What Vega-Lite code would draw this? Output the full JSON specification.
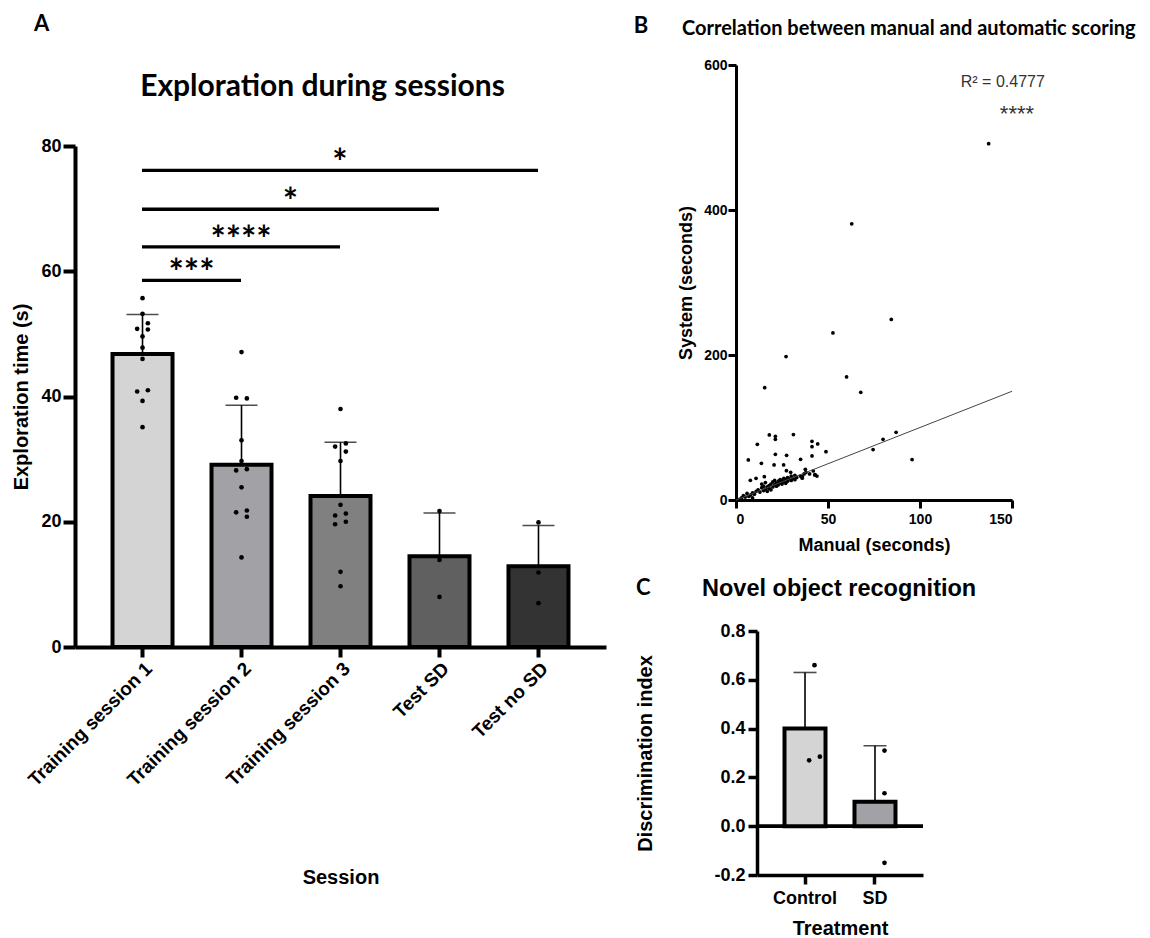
{
  "$schema": "https://vega.github.io/schema/vega-lite/v6.json",
  "background": "white",
  "padding": {"left": 11, "top": 12, "right": 0, "bottom": 0},
  "config": {
    "view": {"stroke": null},
    "axis": {"grid": false, "domainColor": "black", "tickColor": "black", "labelColor": "black", "titleColor": "black", "labelFont": "Liberation Sans", "titleFont": "Liberation Sans", "labelFontWeight": "bold", "titleFontWeight": "bold"},
    "title": {"color": "black"},
    "text": {"color": "black"}
  },
  "datasets": {
    "sessions": [
      {"session": "Training session 1", "mean": 46.8, "upper": 53.1},
      {"session": "Training session 2", "mean": 29.1, "upper": 38.6},
      {"session": "Training session 3", "mean": 24.1, "upper": 32.7},
      {"session": "Test SD", "mean": 14.5, "upper": 21.4},
      {"session": "Test no SD", "mean": 12.9, "upper": 19.4}
    ],
    "sessionPoints": [
      {"session": "Training session 1", "value": 55.7, "col": 0},
      {"session": "Training session 1", "value": 53.2, "col": 0},
      {"session": "Training session 1", "value": 51.7, "col": 1},
      {"session": "Training session 1", "value": 50.8, "col": -1},
      {"session": "Training session 1", "value": 50.7, "col": 1},
      {"session": "Training session 1", "value": 49.6, "col": 0},
      {"session": "Training session 1", "value": 47.8, "col": 0},
      {"session": "Training session 1", "value": 46.0, "col": 0},
      {"session": "Training session 1", "value": 40.8, "col": -1},
      {"session": "Training session 1", "value": 41.0, "col": 1},
      {"session": "Training session 1", "value": 39.3, "col": 0},
      {"session": "Training session 1", "value": 35.1, "col": 0},
      {"session": "Training session 2", "value": 47.1, "col": 0},
      {"session": "Training session 2", "value": 39.8, "col": -1},
      {"session": "Training session 2", "value": 39.7, "col": 1},
      {"session": "Training session 2", "value": 33.0, "col": 0},
      {"session": "Training session 2", "value": 29.7, "col": 0},
      {"session": "Training session 2", "value": 28.2, "col": -1},
      {"session": "Training session 2", "value": 28.4, "col": 1},
      {"session": "Training session 2", "value": 25.5, "col": 0},
      {"session": "Training session 2", "value": 21.5, "col": -1},
      {"session": "Training session 2", "value": 21.8, "col": 1},
      {"session": "Training session 2", "value": 20.8, "col": 1},
      {"session": "Training session 2", "value": 14.3, "col": 0},
      {"session": "Training session 3", "value": 38.0, "col": 0},
      {"session": "Training session 3", "value": 32.0, "col": -1},
      {"session": "Training session 3", "value": 32.5, "col": 1},
      {"session": "Training session 3", "value": 31.2, "col": 1},
      {"session": "Training session 3", "value": 29.7, "col": 0},
      {"session": "Training session 3", "value": 22.7, "col": 0},
      {"session": "Training session 3", "value": 21.0, "col": -1},
      {"session": "Training session 3", "value": 21.3, "col": 1},
      {"session": "Training session 3", "value": 19.6, "col": -1},
      {"session": "Training session 3", "value": 20.0, "col": 1},
      {"session": "Training session 3", "value": 12.0, "col": 0},
      {"session": "Training session 3", "value": 9.7, "col": 0},
      {"session": "Test SD", "value": 21.7, "col": 0},
      {"session": "Test SD", "value": 13.9, "col": 0},
      {"session": "Test SD", "value": 8.0, "col": 0},
      {"session": "Test no SD", "value": 19.9, "col": 0},
      {"session": "Test no SD", "value": 11.9, "col": 0},
      {"session": "Test no SD", "value": 7.0, "col": 0}
    ],
    "sig": [
      {"from": 1, "to": 5, "y": 76.1, "label": "*"},
      {"from": 1, "to": 4, "y": 69.9, "label": "*"},
      {"from": 1, "to": 3, "y": 63.9, "label": "****"},
      {"from": 1, "to": 2, "y": 58.55, "label": "***"}
    ],
    "scatter": [
      {"manual": 137.3, "system": 491.4}, {"manual": 62.9, "system": 381}, {"manual": 84.4, "system": 249},
      {"manual": 52.7, "system": 230.5}, {"manual": 27.2, "system": 197.9}, {"manual": 60.1, "system": 169.8},
      {"manual": 15.6, "system": 155}, {"manual": 67.8, "system": 148.6}, {"manual": 87, "system": 93.4},
      {"manual": 79.9, "system": 83.7}, {"manual": 74.5, "system": 69.5}, {"manual": 95.7, "system": 55.7},
      {"manual": 18.1, "system": 89.7}, {"manual": 21.4, "system": 87.9}, {"manual": 21.4, "system": 83.7},
      {"manual": 31.2, "system": 90.2}, {"manual": 11.6, "system": 76.8}, {"manual": 41.3, "system": 81},
      {"manual": 41.3, "system": 73.6}, {"manual": 44.4, "system": 77.3}, {"manual": 48.9, "system": 66.7},
      {"manual": 6.7, "system": 55.2}, {"manual": 21.4, "system": 63}, {"manual": 27.5, "system": 61.7},
      {"manual": 41.3, "system": 60.7}, {"manual": 35.1, "system": 56.1}, {"manual": 13.8, "system": 50.6},
      {"manual": 20.7, "system": 48.3}, {"manual": 25.9, "system": 48.3}, {"manual": 37.7, "system": 42.3},
      {"manual": 27.4, "system": 40.5}, {"manual": 29.7, "system": 38.2}, {"manual": 7.8, "system": 27.1},
      {"manual": 10.9, "system": 29.9}, {"manual": 15.4, "system": 32.2}, {"manual": 36.1, "system": 32.2},
      {"manual": 42.8, "system": 34.5},
      {"manual": 2, "system": 1}, {"manual": 3, "system": 3}, {"manual": 4, "system": 6}, {"manual": 5, "system": 4},
      {"manual": 6, "system": 9}, {"manual": 7, "system": 5}, {"manual": 8, "system": 7}, {"manual": 9, "system": 3},
      {"manual": 9, "system": 10}, {"manual": 10, "system": 8}, {"manual": 11, "system": 12}, {"manual": 12, "system": 14},
      {"manual": 13, "system": 11}, {"manual": 14, "system": 17}, {"manual": 14, "system": 22}, {"manual": 15, "system": 13},
      {"manual": 15, "system": 19}, {"manual": 16, "system": 15}, {"manual": 16, "system": 24}, {"manual": 17, "system": 18},
      {"manual": 17, "system": 12}, {"manual": 18, "system": 20}, {"manual": 18, "system": 16}, {"manual": 19, "system": 14},
      {"manual": 19, "system": 22}, {"manual": 20, "system": 18}, {"manual": 20, "system": 25}, {"manual": 21, "system": 21},
      {"manual": 21, "system": 27}, {"manual": 22, "system": 19}, {"manual": 22, "system": 23}, {"manual": 23, "system": 26},
      {"manual": 23, "system": 21}, {"manual": 24, "system": 24}, {"manual": 24, "system": 28}, {"manual": 25, "system": 22},
      {"manual": 25, "system": 27}, {"manual": 26, "system": 25}, {"manual": 26, "system": 30}, {"manual": 27, "system": 23},
      {"manual": 27, "system": 28}, {"manual": 28, "system": 26}, {"manual": 28, "system": 31}, {"manual": 29, "system": 29},
      {"manual": 30, "system": 27}, {"manual": 30, "system": 33}, {"manual": 31, "system": 30}, {"manual": 32, "system": 28},
      {"manual": 32, "system": 34}, {"manual": 33, "system": 31}, {"manual": 35, "system": 33}, {"manual": 36, "system": 30},
      {"manual": 37, "system": 36}, {"manual": 38, "system": 38}, {"manual": 40, "system": 36}, {"manual": 42, "system": 40},
      {"manual": 43, "system": 35}, {"manual": 44, "system": 33}
    ],
    "fit": [{"manual": 0, "system": 0}, {"manual": 150, "system": 150}],
    "rsq": [
      {"manual": 145, "system": 576.5, "label": "R² = 0.4777"},
      {"manual": 152.7, "system": 537.8, "label": "****"}
    ],
    "nor": [
      {"treatment": "Control", "mean": 0.40, "upper": 0.63},
      {"treatment": "SD", "mean": 0.10, "upper": 0.33}
    ],
    "norPoints": [
      {"treatment": "Control", "value": 0.66, "col": 0},
      {"treatment": "Control", "value": 0.27, "col": -1},
      {"treatment": "Control", "value": 0.285, "col": 1},
      {"treatment": "SD", "value": 0.31, "col": 0},
      {"treatment": "SD", "value": 0.135, "col": 0},
      {"treatment": "SD", "value": -0.15, "col": 0}
    ],
    "blank": [{"t": ""}]
  },
  "spacing": 27,
  "hconcat": [
    {
      "spacing": 1,
      "vconcat": [
        {
          "width": 531,
          "height": 1,
          "title": {"text": "A", "anchor": "start", "frame": "group", "font": "Lato", "fontWeight": "bold", "fontSize": 22, "dx": -41, "offset": 24},
          "data": {"name": "blank"},
          "mark": {"type": "text"},
          "encoding": {"text": {"field": "t"}}
        },
        {
          "width": 531,
          "height": 501,
          "title": {"text": "Exploration during sessions", "font": "Lato", "fontWeight": "bold", "fontSize": 30, "offset": 35, "anchor": "middle", "frame": "group", "dx": -18},
          "resolve": {"scale": {"x": "independent"}},
          "layer": [
            {
              "layer": [
                {
                  "data": {"name": "sessions"},
                  "mark": {"type": "bar", "stroke": "black", "strokeWidth": 4, "width": 60},
                  "encoding": {
                    "x": {"field": "session", "type": "nominal", "title": "Session",
                      "scale": {"domain": ["Training session 1", "Training session 2", "Training session 3", "Test SD", "Test no SD"], "paddingInner": 0.394, "paddingOuter": 0.379, "align": 0.5},
                      "axis": {"labelAngle": -45, "labelFontSize": 19, "labelAlign": "right", "labelBaseline": "top", "tickSize": 10, "tickWidth": 4, "domainWidth": 4, "labelPadding": 2, "titleFontSize": 20, "titlePadding": 78}},
                    "y": {"field": "mean", "type": "quantitative", "title": "Exploration time (s)",
                      "scale": {"domain": [0, 80], "nice": false},
                      "axis": {"values": [0, 20, 40, 60, 80], "labelFontSize": 18, "titleFontSize": 20, "tickSize": 12, "tickWidth": 4, "domainWidth": 4, "labelPadding": 2, "titlePadding": 9}},
                    "fill": {"field": "session", "type": "nominal", "legend": null,
                      "scale": {"domain": ["Training session 1", "Training session 2", "Training session 3", "Test SD", "Test no SD"], "range": ["#d4d4d4", "#a2a2a6", "#808080", "#606060", "#333333"]}}
                  }
                },
                {
                  "data": {"name": "sessions"},
                  "mark": {"type": "rule", "color": "black", "strokeWidth": 1.6},
                  "encoding": {
                    "x": {"field": "session", "type": "nominal", "title": "Session"},
                    "y": {"field": "mean", "type": "quantitative", "title": "Exploration time (s)"},
                    "y2": {"field": "upper"}
                  }
                },
                {
                  "data": {"name": "sessions"},
                  "mark": {"type": "tick", "color": "black", "thickness": 1.6, "size": 32},
                  "encoding": {
                    "x": {"field": "session", "type": "nominal", "title": "Session"},
                    "y": {"field": "upper", "type": "quantitative", "title": "Exploration time (s)"}
                  }
                }
              ]
            },
            {
              "data": {"name": "sessionPoints"},
              "mark": {"type": "circle", "color": "black", "size": 22, "opacity": 1},
              "encoding": {
                "x": {"field": "session", "type": "nominal", "axis": null,
                  "scale": {"domain": ["Training session 1", "Training session 2", "Training session 3", "Test SD", "Test no SD"], "paddingInner": 0.394, "paddingOuter": 0.379, "align": 0.5}},
                "xOffset": {"field": "col", "type": "quantitative", "scale": {"domain": [-5.6, 5.6]}},
                "y": {"field": "value", "type": "quantitative", "title": "Exploration time (s)"}
              }
            },
            {
              "data": {"name": "sig"},
              "layer": [
                {
                  "mark": {"type": "rule", "color": "black", "strokeWidth": 3.3},
                  "encoding": {
                    "x": {"field": "from", "type": "quantitative", "scale": {"domain": [0.3232, 5.6869], "nice": false, "zero": false}, "axis": null},
                    "x2": {"field": "to"},
                    "y": {"field": "y", "type": "quantitative", "title": "Exploration time (s)"}
                  }
                },
                {
                  "transform": [{"fold": ["from", "to"], "as": ["end", "pos"]}],
                  "mark": {"type": "text", "font": "Lato", "fontWeight": "bold", "fontSize": 36, "baseline": "alphabetic", "align": "center", "dy": 5},
                  "encoding": {
                    "x": {"aggregate": "mean", "field": "pos", "type": "quantitative", "axis": null},
                    "y": {"field": "y", "type": "quantitative", "title": "Exploration time (s)"},
                    "text": {"field": "label"}
                  }
                }
              ]
            }
          ]
        }
      ]
    },
    {
      "spacing": 22,
      "vconcat": [
        {
          "title": {"text": "B", "anchor": "start", "font": "Lato", "fontWeight": "bold", "fontSize": 22, "dx": -44, "dy": 19, "offset": 0},
          "vconcat": [
            {
              "width": 276,
              "height": 435,
              "title": {"text": "Correlation between manual and automatic scoring", "anchor": "start", "frame": "group", "font": "Lato", "fontWeight": "bold", "fontSize": 20, "dx": -54, "offset": 19},
              "layer": [
                {
                  "data": {"name": "scatter"},
                  "mark": {"type": "circle", "color": "black", "size": 14, "opacity": 1},
                  "encoding": {
                    "x": {"field": "manual", "type": "quantitative", "title": "Manual (seconds)",
                      "scale": {"domain": [0, 150], "nice": false},
                      "axis": {"values": [0, 50, 100, 150], "labelFontSize": 14, "titleFontSize": 18, "tickSize": 8, "tickWidth": 3, "domainWidth": 3, "labelPadding": 4, "titlePadding": 10}},
                    "y": {"field": "system", "type": "quantitative", "title": "System (seconds)",
                      "scale": {"domain": [0, 600], "nice": false},
                      "axis": {"values": [0, 200, 400, 600], "labelFontSize": 14, "titleFontSize": 18, "tickSize": 8, "tickWidth": 3, "domainWidth": 3, "labelPadding": 1, "titlePadding": 8}}
                  }
                },
                {
                  "data": {"name": "fit"},
                  "mark": {"type": "line", "color": "#444444", "strokeWidth": 1},
                  "encoding": {
                    "x": {"field": "manual", "type": "quantitative", "title": "Manual (seconds)"},
                    "y": {"field": "system", "type": "quantitative", "title": "System (seconds)"}
                  }
                },
                {
                  "data": {"name": "rsq"},
                  "transform": [{"filter": "datum.label != '****'"}],
                  "mark": {"type": "text", "font": "Liberation Sans", "fontSize": 16, "baseline": "middle", "align": "center", "color": "#333333"},
                  "encoding": {
                    "x": {"field": "manual", "type": "quantitative", "title": "Manual (seconds)"},
                    "y": {"field": "system", "type": "quantitative", "title": "System (seconds)"},
                    "text": {"field": "label"}
                  }
                },
                {
                  "data": {"name": "rsq"},
                  "transform": [{"filter": "datum.label == '****'"}],
                  "mark": {"type": "text", "font": "Liberation Sans", "fontSize": 22, "baseline": "middle", "align": "center", "color": "#333333", "dy": 4},
                  "encoding": {
                    "x": {"field": "manual", "type": "quantitative", "title": "Manual (seconds)"},
                    "y": {"field": "system", "type": "quantitative", "title": "System (seconds)"},
                    "text": {"field": "label"}
                  }
                }
              ]
            }
          ]
        },
        {
          "title": {"text": "C", "anchor": "start", "font": "Lato", "fontWeight": "bold", "fontSize": 22, "dx": 0, "dy": 23, "offset": 0},
          "bounds": "flush",
          "spacing": 20,
          "hconcat": [
            {
              "width": 1,
              "height": 1,
              "data": {"name": "blank"},
              "mark": {"type": "text"},
              "encoding": {"text": {"field": "t"}}
            },
            {
              "width": 166,
              "height": 244,
              "title": {"text": "Novel object recognition", "anchor": "start", "frame": "group", "font": "Liberation Sans", "fontWeight": "bold", "fontSize": 23.5, "dx": -55, "offset": 22},
              "resolve": {"scale": {"x": "independent"}},
              "layer": [
                {
                  "data": {"name": "nor"},
                  "mark": {"type": "rule", "color": "black", "strokeWidth": 3.5},
                  "encoding": {"y": {"datum": 0, "type": "quantitative", "title": "Discrimination index"}}
                },
                {
                  "layer": [
                    {
                      "data": {"name": "nor"},
                      "mark": {"type": "bar", "stroke": "black", "strokeWidth": 4, "width": 41},
                      "encoding": {
                        "x": {"field": "treatment", "type": "nominal", "title": "Treatment",
                          "scale": {"domain": ["Control", "SD"], "paddingInner": 0.414, "paddingOuter": 0.393, "align": 0.5},
                          "axis": {"labelAngle": 0, "labelFontSize": 18, "titleFontSize": 20, "tickSize": 9, "tickWidth": 3.5, "domainWidth": 3.5, "labelPadding": 5, "titlePadding": 11}},
                        "y": {"field": "mean", "type": "quantitative", "title": "Discrimination index",
                          "scale": {"domain": [-0.2, 0.8], "nice": false, "zero": false},
                          "axis": {"values": [-0.2, 0, 0.2, 0.4, 0.6, 0.8], "format": ".1f", "labelExpr": "replace(datum.label, '−', '-')", "labelFontSize": 18, "titleFontSize": 20, "tickSize": 9, "tickWidth": 3.5, "domainWidth": 3.5, "labelPadding": 3, "titlePadding": 58}},
                        "fill": {"field": "treatment", "type": "nominal", "legend": null,
                          "scale": {"domain": ["Control", "SD"], "range": ["#d4d4d4", "#a2a2a6"]}}
                      }
                    },
                    {
                      "data": {"name": "nor"},
                      "mark": {"type": "rule", "color": "black", "strokeWidth": 1.6},
                      "encoding": {
                        "x": {"field": "treatment", "type": "nominal", "title": "Treatment"},
                        "y": {"field": "mean", "type": "quantitative", "title": "Discrimination index"},
                        "y2": {"field": "upper"}
                      }
                    },
                    {
                      "data": {"name": "nor"},
                      "mark": {"type": "tick", "color": "black", "thickness": 1.6, "size": 23},
                      "encoding": {
                        "x": {"field": "treatment", "type": "nominal", "title": "Treatment"},
                        "y": {"field": "upper", "type": "quantitative", "title": "Discrimination index"}
                      }
                    }
                  ]
                },
                {
                  "data": {"name": "norPoints"},
                  "mark": {"type": "circle", "color": "black", "size": 22, "opacity": 1},
                  "encoding": {
                    "x": {"field": "treatment", "type": "nominal", "axis": null,
                      "scale": {"domain": ["Control", "SD"], "paddingInner": 0.414, "paddingOuter": 0.393, "align": 0.5}},
                    "xOffset": {"field": "col", "type": "quantitative", "scale": {"domain": [-4.1, 4.1]}},
                    "y": {"field": "value", "type": "quantitative", "title": "Discrimination index"}
                  }
                }
              ]
            }
          ]
        }
      ]
    }
  ]
}
